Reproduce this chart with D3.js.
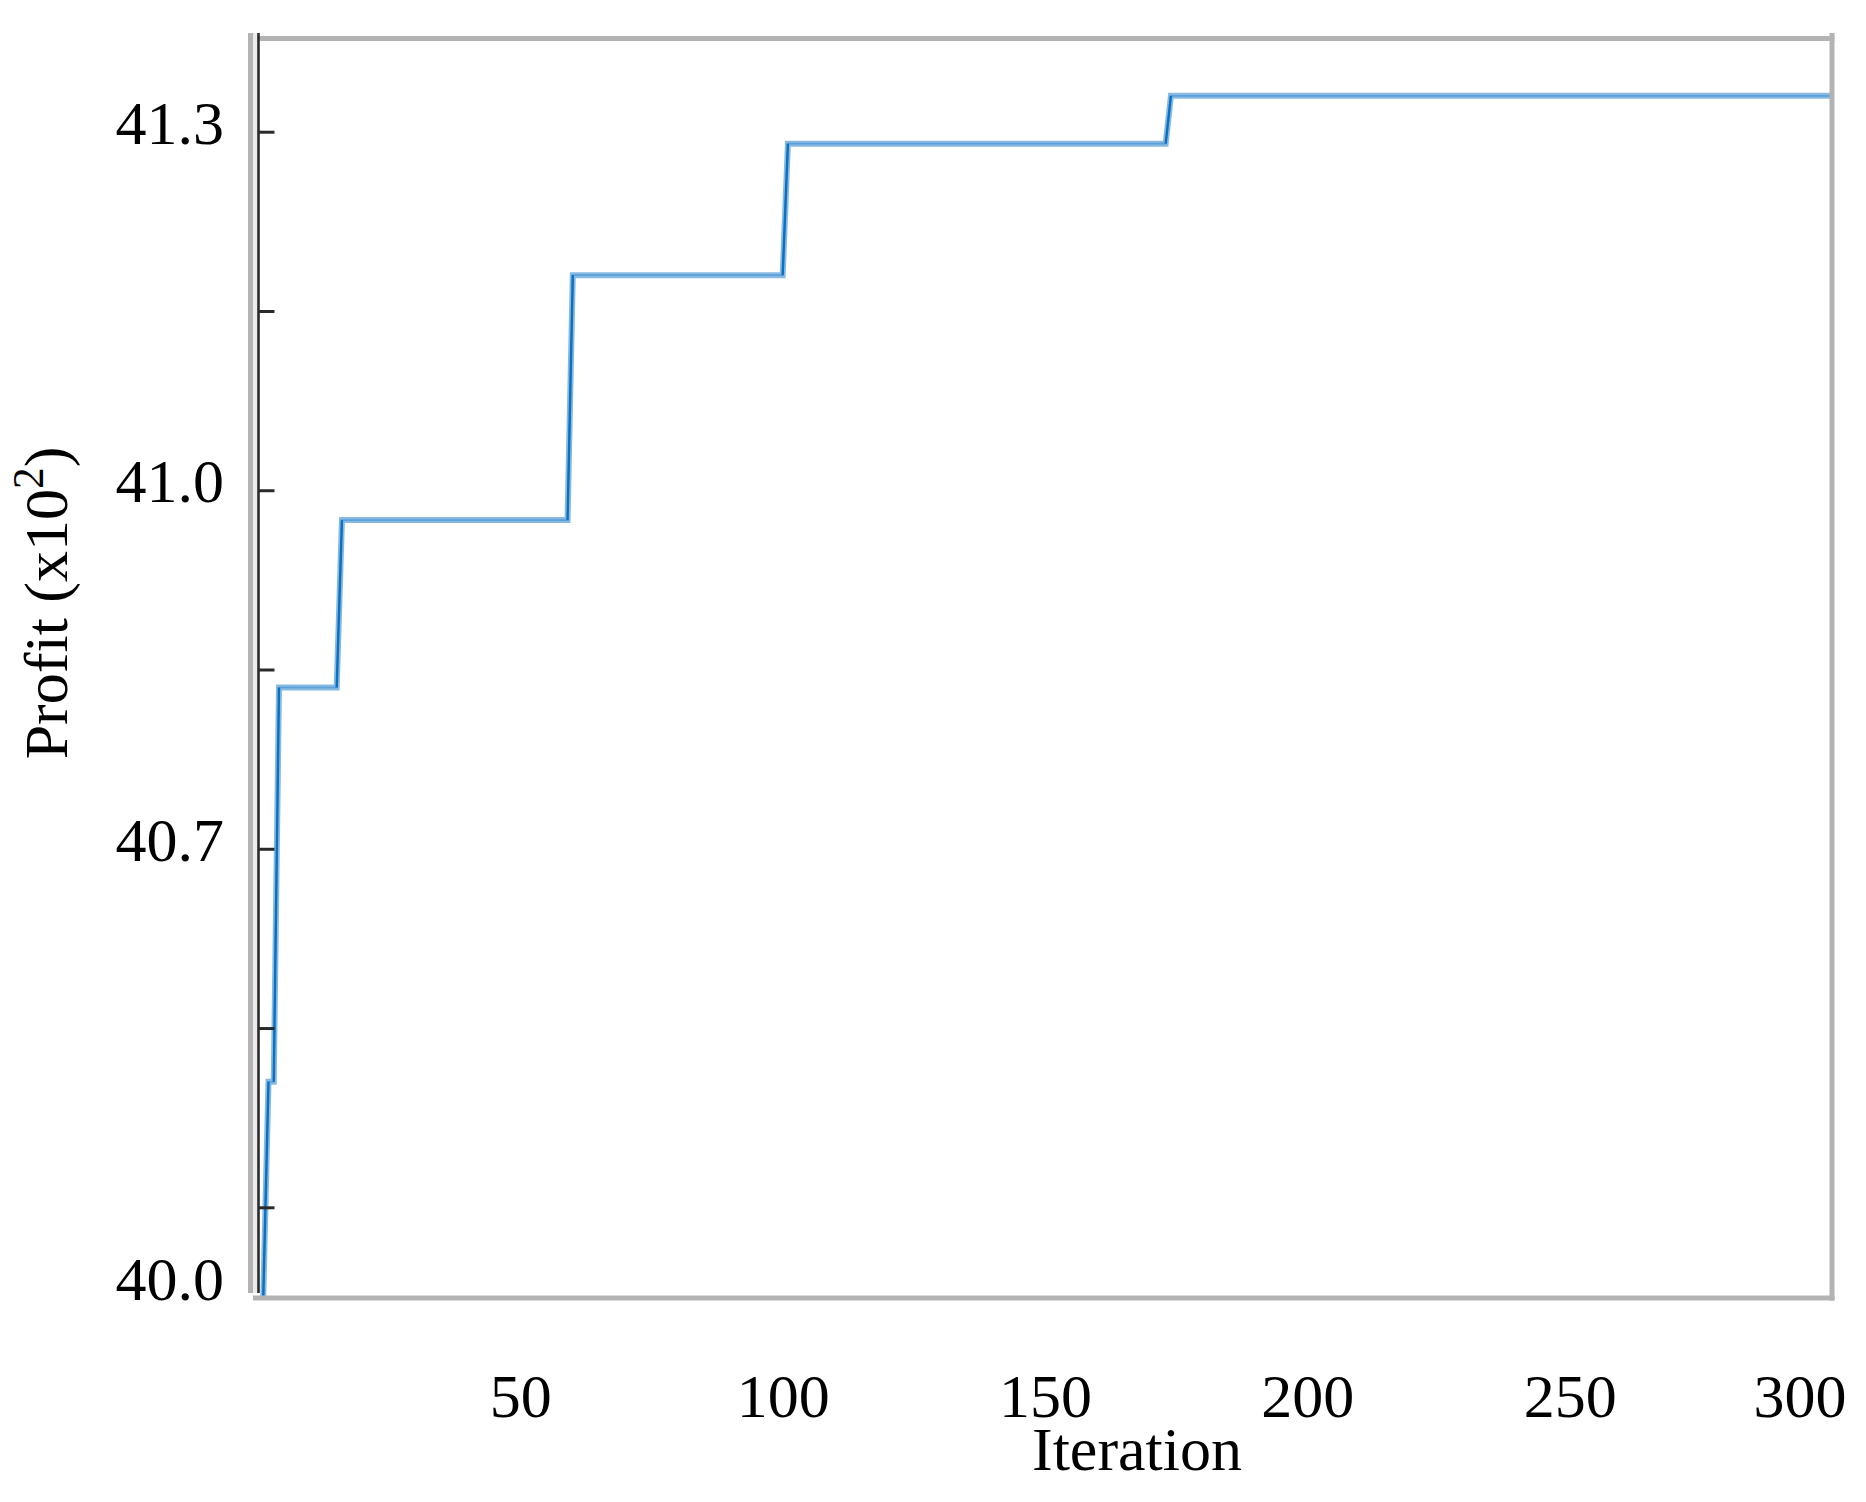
<!DOCTYPE html>
<html>
<head>
<meta charset="utf-8">
<script src="https://cdn.jsdelivr.net/npm/d3@7"></script>
<style>
  html, body { margin: 0; padding: 0; background: #ffffff; }
  svg { display: block; }
  text { font-family: "Liberation Serif", "Times New Roman", serif; fill: #000; }
</style>
</head>
<body>
<svg id="chart" width="1866" height="1502"></svg>
<script>
// ---- data ----
const iterations = [1, 2, 3, 4, 15, 16, 59, 60, 100, 101, 173, 174, 300];
const profit = [40.0, 40.505, 40.505, 40.835, 40.835, 40.975, 40.975, 41.18, 41.18, 41.29, 41.29, 41.33, 41.33];
const xTickValues = [50, 100, 150, 200, 250, 300];
const yTickValues = [40.4, 40.55, 40.7, 40.85, 41.0, 41.15, 41.3];
const yLabelValues = [40.0, 40.7, 41.0, 41.3];
const yLabelText = ["40.0", "40.7", "41.0", "41.3"];
const xTitle = "Iteration";
const yTitle = "Profit (x10";
const yTitleSup = "2";

// ---- layout ----
const W = 1866, H = 1502;
const pL = 258, pR = 1832, pT = 38.5, pB = 1298;
const fontSize = 62;

const svg = d3.select("#chart");

const x = d3.scaleLinear().domain([0, 300]).range([pL, pR]);
const y = d3.scaleLinear().domain([40.0, 40.4, 41.378]).range([pB, 1207.3, pT]);

const points = iterations.map((it, i) => ({ it, v: profit[i] }));

// line (light band)
const line = d3.line().x(d => x(d.it)).y(d => y(d.v));
svg.append("path")
  .datum(points)
  .attr("d", line)
  .attr("fill", "none")
  .attr("stroke", "#86bae3")
  .attr("stroke-width", 6)
  .attr("stroke-linejoin", "miter");

svg.append("path")
  .datum(points)
  .attr("d", line)
  .attr("fill", "none")
  .attr("stroke", "#4f98d4")
  .attr("stroke-width", 1.6)
  .attr("stroke-opacity", 0.75);

// dark rising segments
const rises = [];
for (let i = 1; i < points.length; i++) {
  if (points[i].v !== points[i - 1].v) rises.push([points[i - 1], points[i]]);
}
svg.append("g").selectAll("path")
  .data(rises)
  .join("path")
  .attr("d", line)
  .attr("fill", "none")
  .attr("stroke", "#0a70c0")
  .attr("stroke-width", 2.4);

// frame (gray)
const frame = svg.append("g").attr("stroke", "#b3b3b3").attr("stroke-width", 5).attr("fill", "none");
frame.append("line").attr("x1", 248).attr("x2", pR + 2.5).attr("y1", pT).attr("y2", pT);
frame.append("line").attr("x1", pR).attr("x2", pR).attr("y1", 33).attr("y2", pB + 2.5);
frame.append("line").attr("x1", 253).attr("x2", pR + 2.5).attr("y1", pB).attr("y2", pB);
frame.append("line").attr("x1", 250.5).attr("x2", 250.5).attr("y1", 33).attr("y2", 1293);
svg.append("rect").attr("x", 253).attr("y", 33).attr("width", 4.5).attr("height", 1260).attr("fill", "#ececec");

// y axis (dark line with inward ticks)
const yAxis = d3.axisRight(y).tickValues(yTickValues).tickSize(16).tickSizeOuter(0).tickFormat("");
const gy = svg.append("g").attr("transform", `translate(${pL + 0.5},0)`).call(yAxis);
gy.select(".domain").attr("stroke", "#2a2a2a").attr("stroke-width", 2.6)
  .attr("d", `M0,33V1293`);
gy.selectAll(".tick line").attr("stroke", "#2a2a2a").attr("stroke-width", 3);

// y labels
svg.append("g").selectAll("text")
  .data(yLabelValues)
  .join("text")
  .attr("x", 224)
  .attr("y", (d) => Math.min(y(d), pB - 10) + 12)
  .attr("text-anchor", "end")
  .attr("font-size", fontSize)
  .text((d, i) => yLabelText[i]);

// x axis labels
const xAxis = d3.axisBottom(x).tickValues(xTickValues).tickSize(0).tickFormat(d3.format("d"));
const gx = svg.append("g").attr("transform", `translate(0,${pB})`).call(xAxis);
gx.select(".domain").remove();
gx.selectAll(".tick text")
  .attr("font-family", "Liberation Serif, Times New Roman, serif")
  .attr("font-size", fontSize)
  .attr("fill", "#000")
  .attr("y", 119)
  .attr("dy", 0);
gx.selectAll(".tick").each(function (d) {
  const t = d3.select(this).select("text").node();
  const w = t.getComputedTextLength();
  const px = x(d);
  const maxX = W - 20 - w / 2;
  if (px > maxX) d3.select(this).select("text").attr("x", maxX - px);
});

// axis titles
svg.append("text")
  .attr("x", 1137)
  .attr("y", 1470)
  .attr("text-anchor", "middle")
  .attr("font-size", fontSize)
  .text(xTitle);

const yt = svg.append("text")
  .attr("transform", `translate(67,603) rotate(-90)`)
  .attr("text-anchor", "middle")
  .attr("font-size", fontSize);
yt.append("tspan").text(yTitle);
yt.append("tspan").attr("font-size", fontSize * 0.7).attr("dy", -24).text(yTitleSup);
yt.append("tspan").attr("dy", 24).text(")");
</script>
</body>
</html>
